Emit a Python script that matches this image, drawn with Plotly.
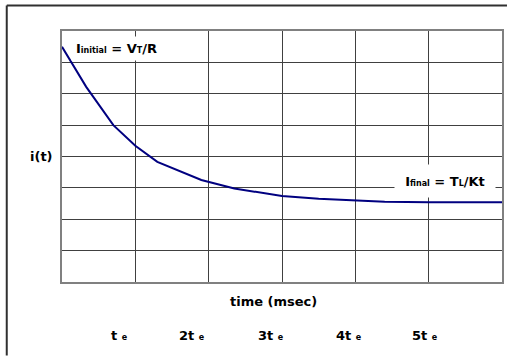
import plotly.graph_objects as go

# Data
time_units = [0, 0.33, 0.7, 1.0, 1.3, 1.6, 1.9, 2.35, 3.0, 3.5, 4.0, 4.4, 5.0, 6.0]
current = [7.5, 6.22, 5.0, 4.34, 3.83, 3.53, 3.25, 2.98, 2.74, 2.65, 2.61, 2.56, 2.54, 2.54]
tau_labels = ["t", "2t", "3t", "4t", "5t"]
tau_label_px = [119.5, 193, 272, 350, 427]

W, H = 513, 356
L, R, T, B = 62, 9, 31, 74
PW, PH = W - L - R, H - T - B

def px(x):
    return (x - L) / PW

def py(y):
    return (H - B - y) / PH

FONT = "DejaVu Sans"
small = "<span style='font-size:8px'>%s</span>"

fig = go.Figure()
fig.add_trace(go.Scatter(x=time_units, y=current, mode="lines",
                         line=dict(color="#000080", width=2), showlegend=False,
                         hoverinfo="skip"))

axis_common = dict(showticklabels=False, ticks="", showline=True, mirror=True,
                   linecolor="#808080", linewidth=2, gridcolor="#404040",
                   gridwidth=1, zeroline=False, fixedrange=True)
fig.update_xaxes(range=[0, 6], dtick=1, **axis_common)
fig.update_yaxes(range=[0, 8], dtick=1, **axis_common)

ann = []
ann.append(dict(text="<b>I" + small % "initial" + " = V" + small % "T" + "/R</b>",
                xref="paper", yref="paper", x=px(117), y=py(48.5),
                xanchor="center", yanchor="middle", showarrow=False,
                font=dict(family=FONT, size=13, color="black"),
                bgcolor="white", borderpad=4))
ann.append(dict(text="<b>I" + small % "final" + " = T" + small % "L" + "/Kt</b>",
                xref="paper", yref="paper", x=px(447), y=py(181),
                xanchor="center", yanchor="middle", showarrow=False,
                font=dict(family=FONT, size=13, color="black"),
                bgcolor="white", width=96, height=28, borderpad=2))
ann.append(dict(text="<b>i(t)</b>", xref="paper", yref="paper",
                x=px(41), y=py(156.5), xanchor="center", yanchor="middle",
                showarrow=False, font=dict(family=FONT, size=13, color="black")))
ann.append(dict(text="<b>time (msec)</b>", xref="paper", yref="paper",
                x=px(274), y=py(301.5), xanchor="center", yanchor="middle",
                showarrow=False, font=dict(family=FONT, size=13, color="black")))
for lab, xp in zip(tau_labels, tau_label_px):
    ann.append(dict(text="<b>" + lab + " " + small % "e" + "</b>",
                    xref="paper", yref="paper", x=px(xp), y=py(335.5),
                    xanchor="center", yanchor="middle", showarrow=False,
                    font=dict(family=FONT, size=13, color="black")))

border = dict(color="#303030", width=2)
fig.update_layout(
    width=W, height=H,
    margin=dict(l=L, r=R, t=T, b=B),
    paper_bgcolor="white", plot_bgcolor="white",
    annotations=ann,
    shapes=[
        dict(type="line", xref="paper", yref="paper",
             x0=px(6.5), y0=py(5.5), x1=px(W - 4), y1=py(5.5), line=border),
        dict(type="line", xref="paper", yref="paper",
             x0=px(6.5), y0=py(5.5), x1=px(6.5), y1=py(H - 0.5), line=border),
    ],
)

fig.write_html("out.html", config={"displayModeBar": False},
               post_script="document.body.style.margin='0';document.body.style.overflow='hidden';")
